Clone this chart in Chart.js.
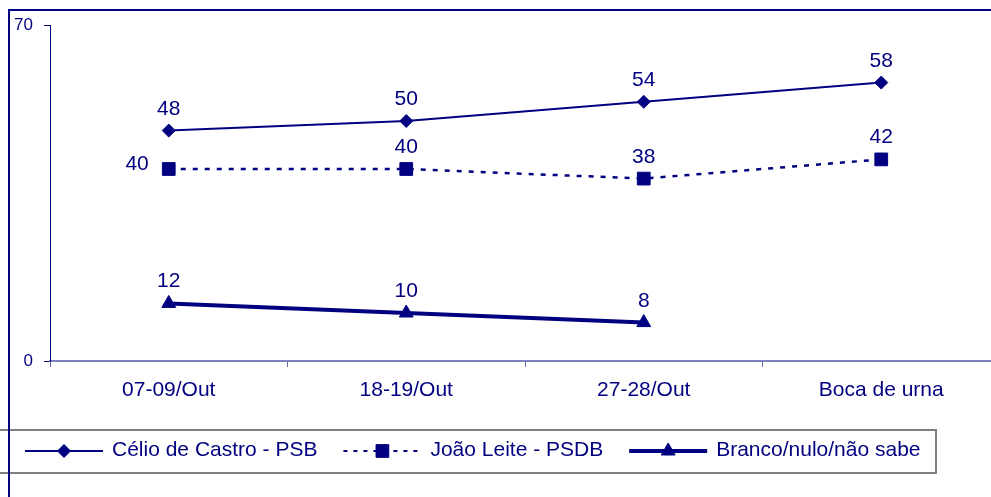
<!DOCTYPE html>
<html>
<head>
<meta charset="utf-8">
<script src="https://cdn.jsdelivr.net/npm/chart.js@4.4.0/dist/chart.umd.min.js"></script>
<style>
  html, body { margin: 0; padding: 0; background: #fff; overflow: hidden; width: 991px; height: 497px; }
  #wrap { position: absolute; left: 0; top: 0; width: 1010px; height: 497px; }
</style>
</head>
<body>
<div id="wrap"><canvas id="c" width="1010" height="497"></canvas></div>
<script>
const categories = ['07-09/Out', '18-19/Out', '27-28/Out', 'Boca de urna'];
const celioValues = [48, 50, 54, 58];
const joaoValues = [40, 40, 38, 42];
const brancoValues = [12, 10, 8, null];
const yTickValues = [0, 70];
const seriesNames = ['Célio de Castro - PSB', 'João Leite - PSDB', 'Branco/nulo/não sabe'];

const NAVY = '#000080';
const FONT = "'Liberation Sans', Arial, sans-serif";

const framePlugin = {
  id: 'frame',
  afterDraw(chart) {
    const ctx = chart.ctx;
    ctx.save();
    ctx.fillStyle = NAVY;
    ctx.fillRect(8, 9, chart.width, 2);
    ctx.fillRect(8, 9, 2, chart.height);
    ctx.restore();
  }
};

const labelPlugin = {
  id: 'valueLabels',
  afterDatasetsDraw(chart) {
    const ctx = chart.ctx;
    ctx.save();
    ctx.font = '21px ' + FONT;
    ctx.fillStyle = NAVY;
    chart.data.datasets.forEach((ds, di) => {
      const meta = chart.getDatasetMeta(di);
      meta.data.forEach((pt, i) => {
        const v = ds.data[i];
        if (v === null || v === undefined) return;
        const left = ds.labelLeft && ds.labelLeft.includes(i);
        ctx.textBaseline = 'alphabetic';
        if (left) {
          ctx.textAlign = 'right';
          ctx.fillText(String(v), pt.x - 20, pt.y + 1);
        } else {
          ctx.textAlign = 'center';
          ctx.fillText(String(v), pt.x, pt.y - 16);
        }
      });
    });
    ctx.restore();
  }
};

const legendPlugin = {
  id: 'boxLegend',
  afterDraw(chart) {
    const ctx = chart.ctx;
    ctx.save();
    ctx.fillStyle = '#fff';
    ctx.strokeStyle = '#7f7f7f';
    ctx.lineWidth = 2;
    ctx.fillRect(-4, 430, 940, 43);
    ctx.strokeRect(-4, 430, 940, 43);
    ctx.fillStyle = NAVY;
    ctx.fillRect(8, 9, 2, chart.height);

    ctx.font = '21px ' + FONT;
    ctx.textBaseline = 'alphabetic';
    ctx.textAlign = 'left';
    let x = 25;
    const y = 451;
    chart.data.datasets.forEach((ds) => {
      const lineLen = 78;
      ctx.save();
      ctx.strokeStyle = ds.borderColor;
      ctx.lineWidth = ds.legendLineWidth || ds.borderWidth;
      ctx.setLineDash(ds.legendDash || ds.borderDash || []);
      ctx.beginPath();
      ctx.moveTo(x, y);
      ctx.lineTo(x + lineLen, y);
      ctx.stroke();
      ctx.setLineDash([]);
      ctx.fillStyle = ds.pointBackgroundColor;
      ctx.strokeStyle = ds.pointBorderColor;
      ctx.lineWidth = 1;
      Chart.helpers.drawPoint(ctx, {
        pointStyle: ds.pointStyle,
        radius: ds.pointRadius,
        rotation: 0,
        borderWidth: 1
      }, x + lineLen / 2, y);
      ctx.restore();
      const tx = x + lineLen + 9;
      ctx.fillStyle = NAVY;
      ctx.fillText(ds.label, tx, y + 5);
      x = tx + ctx.measureText(ds.label).width + 26;
    });
    ctx.restore();
  }
};

new Chart(document.getElementById('c'), {
  type: 'line',
  data: {
    labels: categories,
    datasets: [
      {
        label: seriesNames[0],
        data: celioValues,
        borderColor: NAVY,
        borderWidth: 2,
        pointStyle: 'rectRot',
        pointRadius: 6.5,
        pointHoverRadius: 6.5,
        pointBackgroundColor: NAVY,
        pointBorderColor: NAVY,
        pointBorderWidth: 1,
        tension: 0
      },
      {
        label: seriesNames[1],
        data: joaoValues,
        borderColor: NAVY,
        borderWidth: 2.5,
        borderDash: [5, 7],
        legendDash: [4, 6],
        legendLineWidth: 2,
        pointStyle: 'rect',
        pointRadius: 9,
        pointHoverRadius: 9,
        pointBackgroundColor: NAVY,
        pointBorderColor: NAVY,
        pointBorderWidth: 1,
        tension: 0,
        labelLeft: [0]
      },
      {
        label: seriesNames[2],
        data: brancoValues,
        borderColor: NAVY,
        borderWidth: 4,
        pointStyle: 'triangle',
        pointRadius: 8,
        pointHoverRadius: 8,
        pointBackgroundColor: NAVY,
        pointBorderColor: NAVY,
        pointBorderWidth: 1,
        tension: 0,
        spanGaps: false
      }
    ]
  },
  options: {
    responsive: false,
    animation: false,
    devicePixelRatio: 1,
    layout: { padding: { left: 0, top: 25, right: 9, bottom: 0 } },
    plugins: {
      legend: { display: false },
      tooltip: { enabled: false }
    },
    scales: {
      x: {
        type: 'category',
        offset: true,
        grid: {
          offset: true,
          drawOnChartArea: false,
          drawTicks: true,
          tickLength: 6,
          color: '#6a6aa8'
        },
        border: { color: '#8080c0', width: 2 },
        ticks: {
          color: NAVY,
          font: { family: FONT, size: 21 },
          padding: 11,
          maxRotation: 0,
          autoSkip: false
        },
        afterFit(scale) { scale.height = 136; }
      },
      y: {
        min: 0,
        max: 70,
        grid: {
          drawOnChartArea: false,
          drawTicks: true,
          tickLength: 6,
          color: NAVY
        },
        border: { color: NAVY, width: 1 },
        ticks: {
          color: NAVY,
          font: { family: FONT, size: 17 },
          padding: 11
        },
        afterBuildTicks(scale) { scale.ticks = yTickValues.map(v => ({ value: v })); },
        afterFit(scale) { scale.width = 50; }
      }
    }
  },
  plugins: [framePlugin, labelPlugin, legendPlugin]
});
</script>
</body>
</html>
